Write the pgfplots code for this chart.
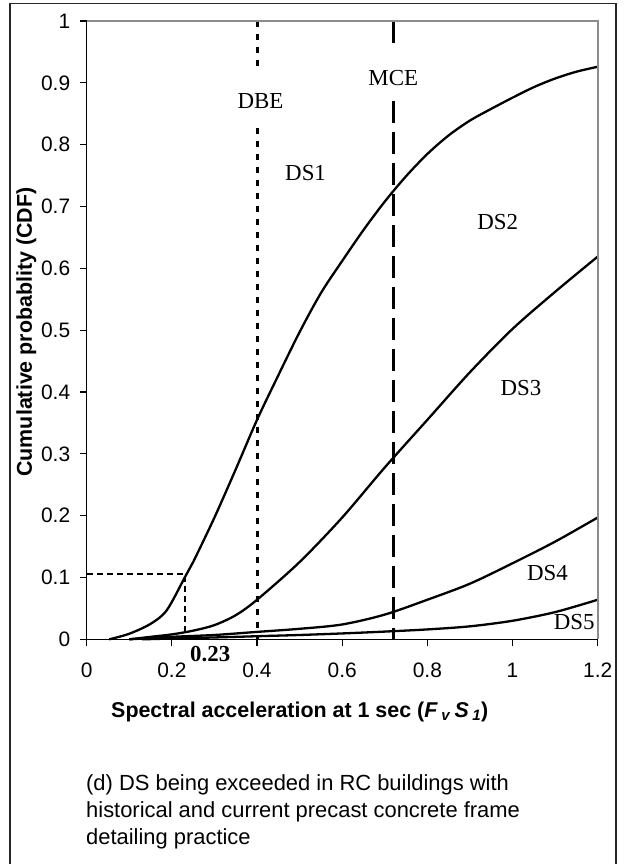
\documentclass[border=0pt]{standalone}
\usepackage{fontspec}
\setmainfont{Liberation Sans}
\newfontfamily\tnr{Liberation Serif}
\usepackage{pgfplots}
\pgfplotsset{compat=1.18}
\definecolor{boxgray}{gray}{0.55}

\begin{document}
\begin{tikzpicture}[x=1bp,y=1bp]
\useasboundingbox (0,0) rectangle (626,-864);
% outer frame (open at the bottom edge)
\draw[line width=1.2bp, black!85] (10,-870) -- (10,-3.3) -- (616,-3.3) -- (616,-870);

\begin{axis}[
  at={(86.7bp,-639.3bp)}, anchor=south west,
  scale only axis, width=511bp, height=618.3bp,
  xmin=0, xmax=1.2, ymin=0, ymax=1,
  clip=false,
  axis x line*=bottom, axis y line*=left,
  axis line style={line width=1.3bp, black},
  xtick={0,0.2,0.4,0.6,0.8,1,1.2},
  ytick={0,0.1,0.2,0.3,0.4,0.5,0.6,0.7,0.8,0.9,1},
  tick align=outside, major tick length=7bp,
  tick style={line width=1.1bp, black},
  /pgf/number format/assume math mode=true,
  tick label style={font=\fontsize{21}{21}\selectfont},
  xticklabel style={yshift=-13bp},
  yticklabel style={xshift=-6bp},
  xlabel={\textbf{Spectral acceleration at 1 sec (\textit{F}\,\textsubscript{\textit{v}}\,\textit{S}\,\textsubscript{\textit{1}})}},
  xlabel style={at={(axis description cs:0.417,-0.1176)}, anchor=center, font=\fontsize{21.5}{22}\selectfont},
  ylabel={\textbf{Cumulative probablity (CDF)}},
  ylabel style={at={(axis description cs:-0.118,0.497)}, anchor=center, font=\fontsize{21.5}{22}\selectfont},
]
% corners of the plot area, used for the grey top and right edges
\coordinate (TL) at (rel axis cs:0,1);
\coordinate (TR) at (rel axis cs:1,1);
\coordinate (BR) at (rel axis cs:1,0);

% DS fragility curves
\addplot[black, line width=2.3bp, smooth, tension=0.5] coordinates {
 (0.053,0) (0.1,0.009) (0.15,0.025) (0.188,0.047) (0.231,0.101) (0.25,0.125)
 (0.3,0.197) (0.35,0.275) (0.4,0.355) (0.45,0.427) (0.5,0.497) (0.55,0.56)
 (0.6,0.612) (0.65,0.662) (0.7,0.708) (0.75,0.749) (0.8,0.785) (0.85,0.815)
 (0.9,0.839) (0.95,0.858) (1.0,0.876) (1.05,0.893) (1.1,0.907) (1.15,0.918) (1.2,0.926)};
\addplot[black, line width=2.3bp, smooth, tension=0.5] coordinates {
 (0.10,0) (0.15,0.004) (0.2,0.008) (0.25,0.014) (0.3,0.023) (0.35,0.039)
 (0.4,0.064) (0.5,0.125) (0.6,0.197) (0.7,0.278) (0.8,0.355) (0.9,0.432)
 (1.0,0.502) (1.1,0.562) (1.2,0.619)};
\addplot[black, line width=2.3bp, smooth, tension=0.5] coordinates {
 (0.1,0) (0.2,0.004) (0.3,0.007) (0.4,0.012) (0.5,0.017) (0.6,0.024) (0.7,0.04)
 (0.8,0.064) (0.9,0.09) (1.0,0.123) (1.1,0.158) (1.2,0.197)};
\addplot[black, line width=2.3bp, smooth, tension=0.5] coordinates {
 (0.13,0) (0.3,0.003) (0.4,0.005) (0.5,0.007) (0.6,0.0095) (0.7,0.0125)
 (0.8,0.016) (0.9,0.021) (1.0,0.03) (1.1,0.044) (1.2,0.064)};

% DBE and MCE levels
\addplot[black, line width=3bp, dash pattern=on 6bp off 7bp] coordinates {(0.4,1) (0.4,0.919)};
\addplot[black, line width=3bp, dash pattern=on 6bp off 7bp] coordinates {(0.4,0.827) (0.4,0)};
\addplot[black, line width=3bp, dash pattern=on 22bp off 9bp] coordinates {(0.72,1) (0.72,0.95)};
\addplot[black, line width=3bp, dash pattern=on 22bp off 9bp] coordinates {(0.72,0.87) (0.72,0)};

% 10% exceedance read-off
\addplot[black, line width=1.2bp, dash pattern=on 6bp off 4bp] coordinates {(0,0.1056) (0.231,0.1056) (0.231,0)};

% labels
\begin{scope}[every node/.style={font=\tnr\fontsize{23}{23}\selectfont, inner sep=0pt}]
\node at (axis cs:0.408,0.87) {DBE};
\node at (axis cs:0.72,0.907) {MCE};
\node at (axis cs:0.514,0.754) {DS1};
\node at (axis cs:0.965,0.675) {DS2};
\node at (axis cs:1.02,0.406) {DS3};
\node at (axis cs:1.082,0.107) {DS4};
\node at (axis cs:1.145,0.028) {DS5};
\node[font=\tnr\bfseries\fontsize{23}{23}\selectfont] at (axis cs:0.29,-0.024) {0.23};
\end{scope}
\end{axis}

% grey top and right edges of the plot area
\draw[draw=boxgray, line width=1.6bp] (TL) -- (TR) -- (BR);

% caption
\begin{scope}[every node/.style={anchor=base west, inner sep=0pt, font=\fontsize{22}{22}\selectfont}]
\node at (86,-790) {(d) DS being exceeded in RC buildings with};
\node at (86,-817) {historical and current precast concrete frame};
\node at (86,-844) {detailing practice};
\end{scope}
\end{tikzpicture}
\end{document}
